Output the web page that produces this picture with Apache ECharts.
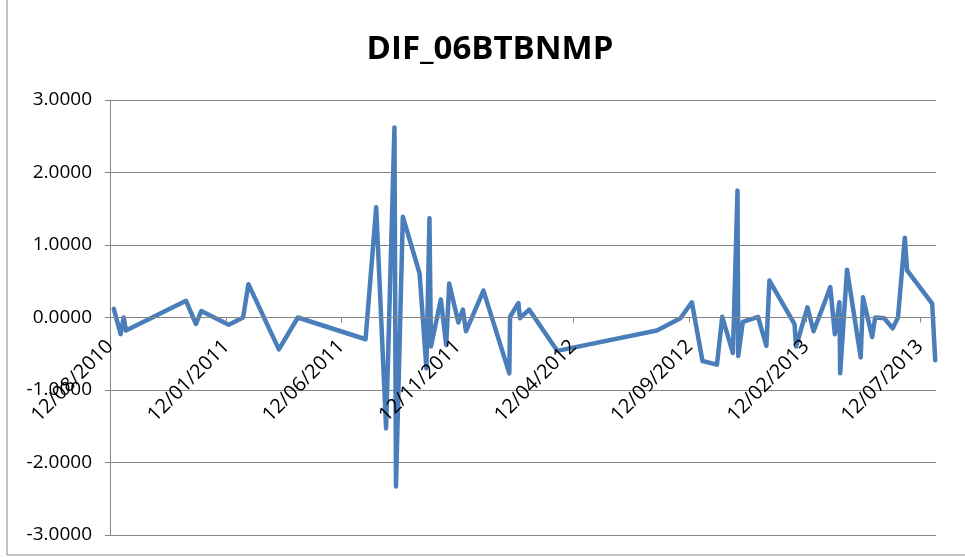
<!DOCTYPE html>
<html>
<head>
<meta charset="utf-8">
<script src="https://cdn.jsdelivr.net/npm/echarts@6/dist/echarts.min.js"></script>
<style>html,body{margin:0;padding:0;background:#fff;}#c{width:965px;height:557px;}</style>
</head>
<body>
<div id="c"></div>
<script>
const title = 'DIF_06BTBNMP';
const dates = ['2010-08-17','2010-08-26','2010-08-30','2010-09-02','2010-11-20','2010-12-03','2010-12-10','2011-01-15','2011-02-03','2011-02-10','2011-03-22','2011-04-16','2011-07-14','2011-07-28','2011-08-10','2011-08-21','2011-08-23','2011-09-01','2011-09-23','2011-10-02','2011-10-06','2011-10-08','2011-10-21','2011-10-28','2011-11-01','2011-11-13','2011-11-19','2011-11-23','2011-12-16','2012-01-19','2012-01-20','2012-01-31','2012-02-02','2012-02-14','2012-03-22','2012-07-31','2012-08-31','2012-09-15','2012-09-29','2012-10-18','2012-10-25','2012-11-08','2012-11-14','2012-11-15','2012-11-21','2012-12-11','2012-12-22','2012-12-26','2013-01-28','2013-01-30','2013-02-14','2013-02-22','2013-03-09','2013-03-16','2013-03-22','2013-03-28','2013-03-29','2013-04-07','2013-04-25','2013-04-28','2013-05-10','2013-05-14','2013-05-26','2013-06-06','2013-06-13','2013-06-22','2013-06-25','2013-07-28','2013-08-01'];
const values = [0.12,-0.23,0.00,-0.18,0.23,-0.09,0.09,-0.10,0.00,0.46,-0.44,0.00,-0.30,1.52,-1.53,2.62,-2.33,1.39,0.61,-0.70,1.37,-0.40,0.25,-0.38,0.47,-0.07,0.11,-0.19,0.37,-0.77,0.01,0.20,-0.01,0.11,-0.46,-0.18,-0.01,0.21,-0.60,-0.65,0.01,-0.49,1.75,-0.53,-0.06,0.01,-0.39,0.51,-0.09,-0.40,0.14,-0.19,0.22,0.42,-0.23,0.21,-0.77,0.66,-0.55,0.28,-0.27,0.00,-0.01,-0.15,0.00,1.10,0.65,0.19,-0.59];
const xTickDates = ['2010-08-12','2011-01-12','2011-06-12','2011-11-12','2012-04-12','2012-09-12','2013-02-12','2013-07-12'];
const xMin = '2010-08-12';
const xMax = '2013-08-02';
const yMin = -3, yMax = 3, yStep = 1;

function ts(s){const p=s.split('-').map(Number);return Date.UTC(p[0],p[1]-1,p[2]);}
function fmt(v){const d=new Date(v);const dd=String(d.getUTCDate()).padStart(2,'0');const mm=String(d.getUTCMonth()+1).padStart(2,'0');return dd+'/'+mm+'/'+d.getUTCFullYear();}

const data = dates.map((d,i)=>[ts(d),values[i]]);
const tickVals = xTickDates.map(ts);
const gray = '#868686';
const font = "'Open Sans', sans-serif";
const gridTop = 100, gridBottom = 22, H = 557;
const plotH = H - gridTop - gridBottom;
const zeroOffset = -plotH * (0 - yMin) / (yMax - yMin);

const chart = echarts.init(document.getElementById('c'));
chart.setOption({
  animation:false,
  backgroundColor:'#fff',
  title:{text:title,left:485,top:28,textAlign:'center',textStyle:{fontFamily:font,fontWeight:'bold',fontSize:33,color:'#000'}},
  graphic:[{type:'rect',shape:{x:7,y:-10,width:1000,height:565},style:{fill:'none',stroke:gray,lineWidth:1},silent:true,z:-1}],
  grid:{left:110,right:29,top:gridTop,bottom:gridBottom,containLabel:false,outerBoundsMode:'none'},
  xAxis:{type:'value',min:ts(xMin),max:ts(xMax),scale:true,position:'bottom',offset:zeroOffset,z:10,
    axisLine:{onZero:false,lineStyle:{color:gray,width:1}},
    axisTick:{show:true,customValues:tickVals,length:5,inside:false,lineStyle:{color:gray}},
    axisLabel:{customValues:tickVals,rotate:45,formatter:fmt,fontFamily:font,fontSize:20,color:'#000',margin:26,showMinLabel:true,showMaxLabel:true,hideOverlap:false},
    splitLine:{show:false}},
  yAxis:{type:'value',min:yMin,max:yMax,interval:yStep,
    axisLine:{show:true,onZero:false,lineStyle:{color:gray}},
    axisTick:{show:true,length:5,lineStyle:{color:gray}},
    axisLabel:{formatter:v=>v.toFixed(4),fontFamily:font,fontSize:19,color:'#000',margin:18},
    splitLine:{show:true,lineStyle:{color:gray,width:1}}},
  series:[{type:'line',data:data,showSymbol:false,symbol:'none',z:2,
    lineStyle:{color:'#4A7EBB',width:4.5,join:'round',cap:'round'}}]
});
</script>
</body>
</html>
